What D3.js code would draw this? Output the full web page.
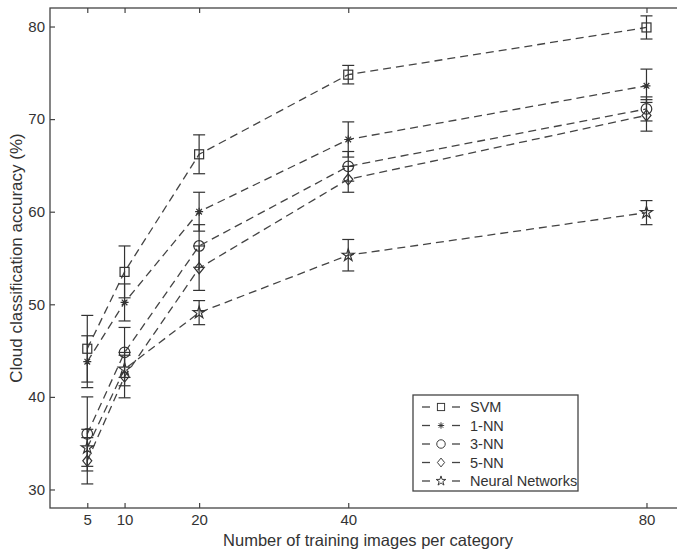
<!DOCTYPE html>
<html>
<head>
<meta charset="utf-8">
<script src="https://cdn.jsdelivr.net/npm/d3@7"></script>
<style>
  body { margin: 0; background: #fff; }
  text { font-family: "Liberation Sans", Arial, sans-serif; fill: #333; }
</style>
</head>
<body>
<div id="chart"></div>
<script>
const trainSizes = [5, 10, 20, 40, 80];
const seriesNames = ["SVM", "1-NN", "3-NN", "5-NN", "Neural Networks"];
const svmMean = [45.2, 53.5, 66.2, 74.8, 79.9];
const svmErr = [3.6, 2.8, 2.1, 1.0, 1.25];
const nn1Mean = [43.8, 50.2, 60.0, 67.8, 73.6];
const nn1Err = [2.8, 2.0, 2.1, 1.9, 1.8];
const nn3Mean = [36.0, 44.8, 56.3, 64.9, 71.1];
const nn3Err = [4.0, 2.7, 2.3, 1.6, 1.3];
const nn5Mean = [33.1, 42.2, 53.9, 63.5, 70.4];
const nn5Err = [2.5, 2.3, 2.4, 1.4, 1.7];
const annMean = [34.5, 43.0, 49.1, 55.3, 59.9];
const annErr = [2.0, 1.8, 1.3, 1.7, 1.3];
const yTicks = [30, 40, 50, 60, 70, 80];

const W = 677, H = 549;
const mLeft = 50, mTop = 8, mRight = 686, mBottom = 508;

const svg = d3.select("#chart").append("svg")
    .attr("width", W).attr("height", H);

const x = d3.scaleLinear().domain([0, 85.3]).range([mLeft, mRight]);
const y = d3.scaleLinear().domain([28, 82]).range([mBottom, mTop]);

const series = [
    {name: seriesNames[0], mean: svmMean, err: svmErr, mark: "square"},
    {name: seriesNames[1], mean: nn1Mean, err: nn1Err, mark: "asterisk"},
    {name: seriesNames[2], mean: nn3Mean, err: nn3Err, mark: "circle"},
    {name: seriesNames[3], mean: nn5Mean, err: nn5Err, mark: "diamond"},
    {name: seriesNames[4], mean: annMean, err: annErr, mark: "star"}
];

// axes box
svg.append("rect")
    .attr("x", mLeft).attr("y", mTop)
    .attr("width", mRight - mLeft).attr("height", mBottom - mTop)
    .attr("fill", "none").attr("stroke", "#444").attr("stroke-width", 1.3);

const xAxis = svg.append("g")
    .attr("transform", "translate(0," + mBottom + ")")
    .call(d3.axisBottom(x).tickValues(trainSizes).tickSizeInner(-5).tickSizeOuter(0).tickPadding(6));
const xTop = svg.append("g")
    .attr("transform", "translate(0," + mTop + ")")
    .call(d3.axisTop(x).tickValues(trainSizes).tickSizeInner(-5).tickSizeOuter(0).tickFormat(""));
const yAxis = svg.append("g")
    .attr("transform", "translate(" + mLeft + ",0)")
    .call(d3.axisLeft(y).tickValues(yTicks).tickSizeInner(-5).tickSizeOuter(0).tickPadding(5));

[xAxis, xTop, yAxis].forEach(function (g) {
    g.select(".domain").remove();
    g.selectAll("line").attr("stroke", "#444").attr("stroke-width", 1.2);
    g.selectAll("text").style("font-size", "15px").attr("fill", "#333");
});

svg.append("text")
    .attr("x", (mLeft + mRight) / 2).attr("y", 546)
    .attr("text-anchor", "middle")
    .style("font-size", "16.5px")
    .text("Number of training images per category");

svg.append("text")
    .attr("transform", "translate(16," + ((mTop + mBottom) / 2) + ") rotate(-90)")
    .attr("text-anchor", "middle")
    .attr("dy", "0.35em")
    .style("font-size", "17px")
    .text("Cloud classification accuracy (%)");

function drawMarker(g, type) {
    const s = 4.5;
    if (type === "square") {
        g.append("rect").attr("x", -s).attr("y", -s).attr("width", 2 * s).attr("height", 2 * s);
    } else if (type === "circle") {
        g.append("circle").attr("r", s + 0.8);
    } else if (type === "diamond") {
        g.append("path").attr("d", "M0," + (-s - 1) + "L" + (s) + ",0L0," + (s + 1) + "L" + (-s) + ",0Z");
    } else if (type === "star") {
        g.append("path").attr("d", d3.symbol(d3.symbolStar, 45)());
    } else if (type === "asterisk") {
        const a = 4;
        g.append("path").attr("d",
            "M" + (-a) + ",0L" + a + ",0M0," + (-a) + "L0," + a +
            "M" + (-a * 0.7) + "," + (-a * 0.7) + "L" + (a * 0.7) + "," + (a * 0.7) +
            "M" + (-a * 0.7) + "," + (a * 0.7) + "L" + (a * 0.7) + "," + (-a * 0.7));
    }
    g.selectAll("*").attr("fill", "none").attr("stroke", "#333").attr("stroke-width", 1.2);
}

const line = d3.line()
    .x(function (d) { return x(d.x); })
    .y(function (d) { return y(d.y); });

const plot = svg.append("g");

series.forEach(function (s) {
    const pts = trainSizes.map(function (t, i) {
        return {x: t, y: s.mean[i], e: s.err[i]};
    });

    plot.append("path")
        .datum(pts)
        .attr("d", line)
        .attr("fill", "none")
        .attr("stroke", "#444")
        .attr("stroke-width", 1.3)
        .attr("stroke-dasharray", "8,5");

    const bars = plot.append("g").selectAll("g")
        .data(pts)
        .enter().append("g")
        .attr("stroke", "#333").attr("stroke-width", 1.2);
    bars.append("line")
        .attr("x1", function (d) { return x(d.x); })
        .attr("x2", function (d) { return x(d.x); })
        .attr("y1", function (d) { return y(d.y - d.e); })
        .attr("y2", function (d) { return y(d.y + d.e); });
    bars.append("line")
        .attr("x1", function (d) { return x(d.x) - 6; })
        .attr("x2", function (d) { return x(d.x) + 6; })
        .attr("y1", function (d) { return y(d.y + d.e); })
        .attr("y2", function (d) { return y(d.y + d.e); });
    bars.append("line")
        .attr("x1", function (d) { return x(d.x) - 6; })
        .attr("x2", function (d) { return x(d.x) + 6; })
        .attr("y1", function (d) { return y(d.y - d.e); })
        .attr("y2", function (d) { return y(d.y - d.e); });

    plot.append("g").selectAll("g")
        .data(pts)
        .enter().append("g")
        .attr("transform", function (d) { return "translate(" + x(d.x) + "," + y(d.y) + ")"; })
        .each(function () { drawMarker(d3.select(this), s.mark); });
});

// legend
const legend = svg.append("g").attr("transform", "translate(413,395)");
legend.append("rect")
    .attr("width", 165).attr("height", 96)
    .attr("fill", "#fff").attr("stroke", "#444").attr("stroke-width", 1.3);

const rows = legend.selectAll(".entry")
    .data(series)
    .enter().append("g")
    .attr("class", "entry")
    .attr("transform", function (d, i) { return "translate(0," + (12 + i * 18.5) + ")"; });

rows.append("line").attr("x1", 9).attr("x2", 17).attr("stroke", "#444").attr("stroke-width", 1.3);
rows.append("line").attr("x1", 39).attr("x2", 47).attr("stroke", "#444").attr("stroke-width", 1.3);
rows.append("g")
    .attr("transform", "translate(28,0) scale(0.8)")
    .each(function (d) { drawMarker(d3.select(this), d.mark); });
rows.append("text")
    .attr("x", 57).attr("dy", "0.35em")
    .style("font-size", "14.5px")
    .text(function (d) { return d.name; });
</script>
</body>
</html>
